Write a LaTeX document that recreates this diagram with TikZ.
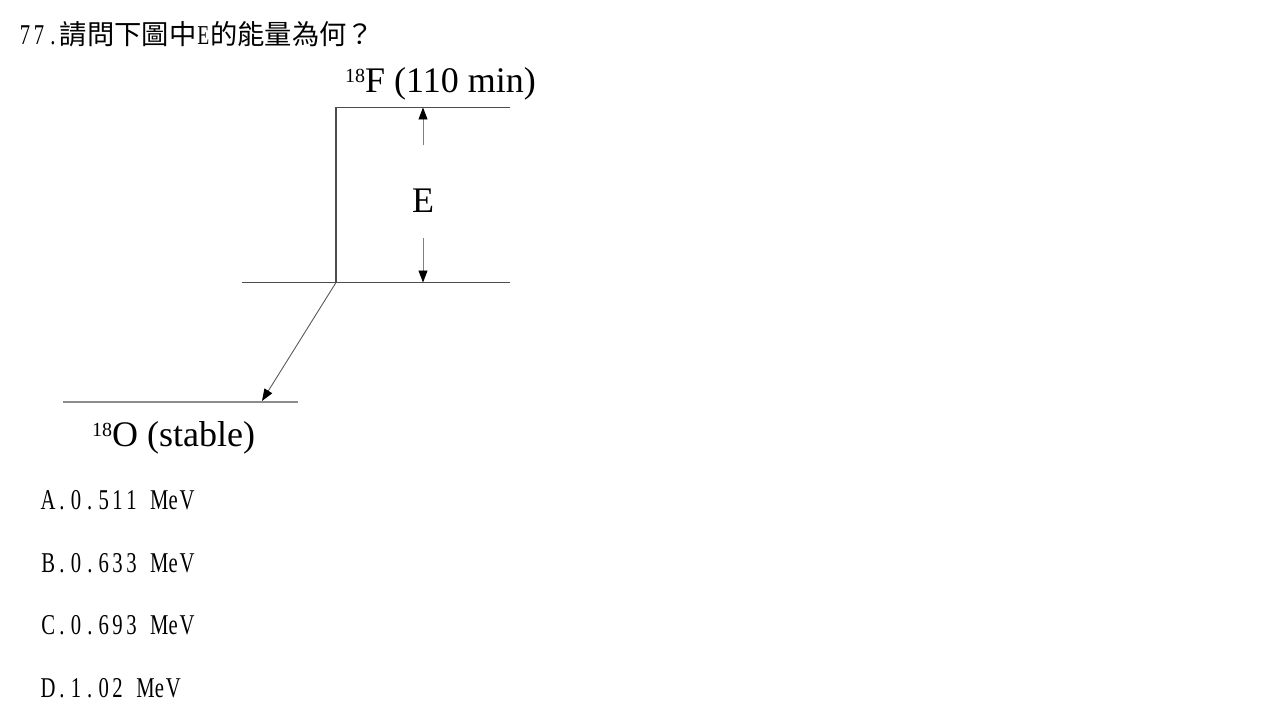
\documentclass[tikz,border=0pt]{standalone}
\usepackage{fontspec}
\setmainfont{Liberation Serif}
\newfontfamily\cjk{Noto Sans CJK TC}
\newfontfamily\optfont[FakeStretch=0.72]{Liberation Serif}
\usetikzlibrary{arrows.meta}
\newcommand\nuc[1]{\raisebox{10pt}{\fontsize{20}{20}\selectfont #1}}
% fixed-width cells, one per character
\newcommand\mono[1]{\monoi#1\relax}
\def\monoi#1{\ifx#1\relax\else\makebox[13.9pt]{#1}\expandafter\monoi\fi}

\begin{document}
\begin{tikzpicture}[x=1pt,y=-1pt,
    level/.style={draw=black!70,line width=1.4pt},
    tip/.style={draw=black!50,line width=0.9pt,-{Triangle[length=12pt,width=9pt,color=black]}},
    lbl/.style={inner sep=0pt,font=\fontsize{36}{40}\selectfont},
    opt/.style={inner sep=0pt,anchor=base west,font=\fontsize{28.7}{32}\optfont}]
\useasboundingbox (0,0) rectangle (1273,722);
% question
\node [anchor=base west,inner sep=0pt] (title) at (18,45) {\fontsize{28.7}{32}\optfont\mono{77.}\fontsize{27.3}{30}\cjk 請問下圖中\optfont\mono{E}\cjk 的能量為何？};
% levels
\coordinate (fL) at (336,107.5);
\coordinate (fR) at (510,107.5);
\coordinate (mL) at (242,282.5);
\coordinate (mC) at (336,282.5);
\coordinate (mR) at (510,282.5);
\coordinate (oL) at (63,402);
\coordinate (oR) at (298,402);
\coordinate (oTip) at (262,401);
\coordinate (eTop) at (423,107.5);
\coordinate (eUp) at (423,145);
\coordinate (eDown) at (423,238);
\coordinate (eBot) at (423,282.5);
\draw [level] (fR) -- (fL) -- (mC);
\draw [level] (mL) -- (mR);
\draw [level,draw=black!45] (oL) -- (oR);
\draw [tip] (eUp) -- (eTop);
\draw [tip] (eDown) -- (eBot);
\draw [tip,draw=black!65] (mC) -- (oTip);
\node [lbl,anchor=base west] (fLabel) at (345,93) {\nuc{18}F (110 min)};
\node [lbl,anchor=base] (eLabel) at (423,212) {E};
\node [lbl,anchor=base west] (oLabel) at (92,446) {\nuc{18}O (stable)};
% answers
\node [opt] (optA) at (41,509.5) {\mono{A.0.511~MeV}};
\node [opt] (optB) at (41,572.1) {\mono{B.0.633~MeV}};
\node [opt] (optC) at (41,634.7) {\mono{C.0.693~MeV}};
\node [opt] (optD) at (41,697.3) {\mono{D.1.02~MeV}};
\end{tikzpicture}
\end{document}
